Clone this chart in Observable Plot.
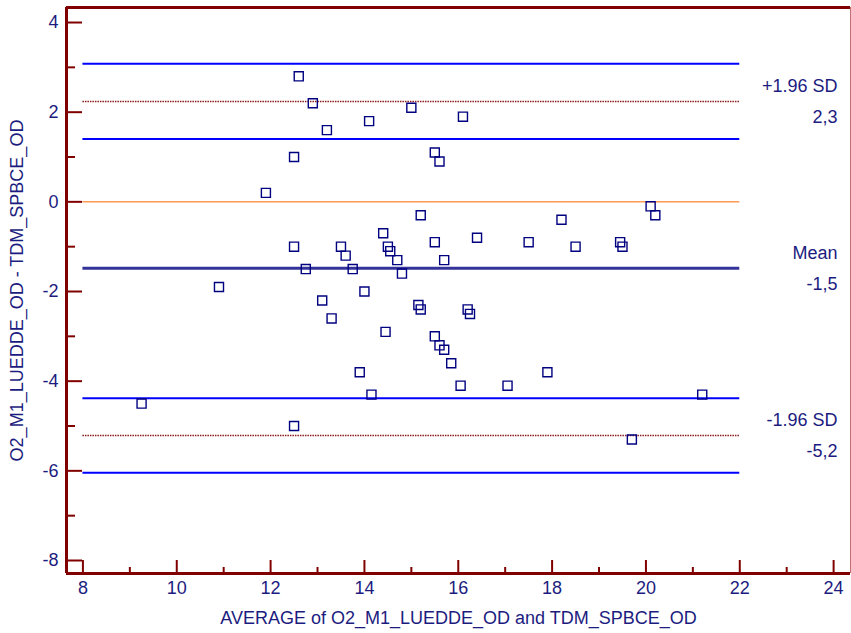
<!DOCTYPE html>
<html><head><meta charset="utf-8">
<script src="https://cdn.jsdelivr.net/npm/d3@7"></script>
<script src="https://cdn.jsdelivr.net/npm/@observablehq/plot@0.6"></script>
<style>body{margin:0;background:#fff}</style>
</head><body><div id="chart"></div>
<script>
// Bland-Altman data: average (x) and difference (y)
const avgValues = [12.6, 12.9, 13.2, 15.0, 14.1, 16.1, 12.5, 15.5, 15.6, 11.9,
  15.2, 14.4, 16.4, 17.5, 18.2, 20.1, 20.2, 15.5, 12.5, 13.5,
  14.5, 14.55, 13.6, 14.7, 15.7, 18.5, 19.45, 19.5, 12.75, 13.75,
  14.8, 10.9, 14.0, 13.1, 15.15, 15.2, 16.2, 16.25, 13.3, 14.45,
  15.5, 15.6, 15.7, 15.85, 13.9, 17.9, 16.05, 17.05, 14.15, 21.2,
  9.25, 12.5, 19.7];
const diffValues = [2.8, 2.2, 1.6, 2.1, 1.8, 1.9, 1.0, 1.1, 0.9, 0.2,
  -0.3, -0.7, -0.8, -0.9, -0.4, -0.1, -0.3, -0.9, -1.0, -1.0,
  -1.0, -1.1, -1.2, -1.3, -1.3, -1.0, -0.9, -1.0, -1.5, -1.5,
  -1.6, -1.9, -2.0, -2.2, -2.3, -2.4, -2.4, -2.5, -2.6, -2.9,
  -3.0, -3.2, -3.3, -3.6, -3.8, -3.8, -4.1, -4.1, -4.3, -4.3,
  -4.5, -5.0, -5.3];

const meanDiff = -1.48;
const loaValues = [2.24, -5.21];
const ciValues = [3.08, 1.40, -4.38, -6.04];
const zeroLine = [0];
const lineSpan = [8, 22];

const labelTexts = ["+1.96 SD", "2,3", "Mean", "-1,5", "-1.96 SD", "-5,2"];
const labelValues = [2.24, 2.24, -1.48, -1.48, -5.21, -5.21];
const labelAbove = [true, false, true, false, true, false];

const yTicks = [-8, -6, -4, -2, 0, 2, 4];
const yMinorTicks = [-7, -5, -3, -1, 1, 3];
const xTicks = [8, 10, 12, 14, 16, 18, 20, 22, 24];
const xMinorTicks = [9, 11, 13, 15, 17, 19, 21, 23];

const xTitle = "AVERAGE of O2_M1_LUEDDE_OD and TDM_SPBCE_OD";
const yTitle = "O2_M1_LUEDDE_OD - TDM_SPBCE_OD";

const xDomain = [7.65, 24.36];
const yDomain = [-8.29, 4.335];

const points = avgValues.map((x, i) => ({x, y: diffValues[i]}));
const labels = labelTexts.map((t, i) => ({t, y: labelValues[i], above: labelAbove[i]}));

const navy = "#1c1c80";
const axisRed = "#800000";
const FS = 18;
const W = 851, H = 633, mL = 66, mR = 1, mT = 7, mB = 60;
const pw = W - mL - mR, ph = H - mT - mB;

const chart = Plot.plot({
  width: W, height: H,
  marginLeft: mL, marginRight: mR, marginTop: mT, marginBottom: mB,
  x: {domain: xDomain},
  y: {domain: yDomain},
  style: {fontFamily: "'Liberation Sans', Arial, sans-serif", fontSize: FS + "px", color: navy, background: "#fff"},
  marks: [
    // frame
    Plot.ruleX([xDomain[1]], {stroke: "#c07070", strokeWidth: 1}),
    Plot.ruleY([yDomain[1]], {stroke: axisRed, strokeWidth: 3}),
    // reference lines
    Plot.ruleY(ciValues, {x1: lineSpan[0], x2: lineSpan[1], stroke: "#0000ff", strokeWidth: 2}),
    Plot.ruleY(loaValues, {x1: lineSpan[0], x2: lineSpan[1], stroke: "#8b1a1a", strokeWidth: 1.5, strokeDasharray: "1.5 1"}),
    Plot.ruleY(zeroLine, {x1: lineSpan[0], x2: lineSpan[1], stroke: "#ff6600", strokeWidth: 1}),
    Plot.ruleY([meanDiff], {x1: lineSpan[0], x2: lineSpan[1], stroke: "#333399", strokeWidth: 3}),
    // points
    Plot.dot(points, {x: "x", y: "y", symbol: "square", r: 5.1, stroke: "#000080", strokeWidth: 1.4, fill: "none"}),
    // labels
    Plot.text(labels.filter(d => d.above), {x: 24, y: "y", text: "t", textAnchor: "end", lineAnchor: "middle", dx: 4, dy: -15, fill: navy, fontSize: FS}),
    Plot.text(labels.filter(d => !d.above), {x: 24, y: "y", text: "t", textAnchor: "end", lineAnchor: "middle", dx: 4, dy: 16, fill: navy, fontSize: FS}),
    // axis lines
    Plot.ruleX([xDomain[0]], {stroke: axisRed, strokeWidth: 3}),
    Plot.ruleY([yDomain[0]], {stroke: axisRed, strokeWidth: 3}),
    // inward ticks
    Plot.tickY(yTicks, {y: d => d, insetRight: pw - 16, stroke: axisRed, strokeWidth: 2}),
    Plot.tickY(yMinorTicks, {y: d => d, insetRight: pw - 9, stroke: axisRed, strokeWidth: 2}),
    Plot.tickX(xTicks, {x: d => d, insetTop: ph - 13, stroke: axisRed, strokeWidth: 2}),
    Plot.tickX(xMinorTicks, {x: d => d, insetTop: ph - 6, stroke: axisRed, strokeWidth: 2}),
    // tick labels
    Plot.axisY(yTicks, {tickSize: 0, tickPadding: 8, tickFormat: d => String(d), label: null, fill: navy, fontSize: FS}),
    Plot.axisX(xTicks, {tickSize: 0, tickPadding: 8, tickFormat: d => String(d), label: null, fill: navy, fontSize: FS}),
    // titles
    Plot.text([xTitle], {frameAnchor: "bottom", textAnchor: "middle", lineAnchor: "middle", dy: 45, fill: navy, fontSize: FS}),
    Plot.text([yTitle], {frameAnchor: "left", textAnchor: "middle", lineAnchor: "middle", dx: -49, rotate: -90, fill: navy, fontSize: FS})
  ]
});
document.getElementById("chart").appendChild(chart);
</script>
</body></html>
